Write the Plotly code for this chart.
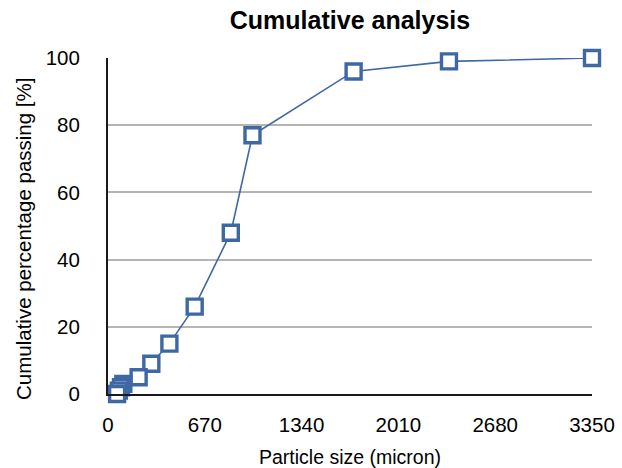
import plotly.graph_objects as go

# Sieve sizes (micron) and cumulative percentage passing,
# listed coarse to fine so the finest sieves sit on top of the cluster
sizes = [3350, 2360, 1700, 1000, 850, 600, 425, 300, 212, 106, 90, 75, 63]
passing = [100, 99, 96, 77, 48, 26, 15, 9, 5, 3, 2, 1, 0]

x_ticks = [0, 670, 1340, 2010, 2680, 3350]
y_ticks = [0, 20, 40, 60, 80, 100]

blue = "#3e68a4"
font_family = "Liberation Sans, Arial, Helvetica, sans-serif"

W, H = 622, 468
L, R, T, B = 108, 30, 58, 74

fig = go.Figure()
fig.add_trace(go.Scatter(
    x=sizes,
    y=passing,
    mode="lines+markers",
    line=dict(color=blue, width=1.6),
    marker=dict(symbol="square", size=15, color="white", line=dict(width=3.4, color=blue)),
    cliponaxis=False,
    showlegend=False,
))

# Vertical axis title placed as a rotated annotation
fig.add_annotation(
    text="Cumulative percentage passing [%]",
    xref="paper", yref="paper",
    x=(23 - L) / (W - L - R), y=(H - B - 239) / (H - T - B),
    xanchor="center", yanchor="middle",
    textangle=-90, showarrow=False,
    font=dict(size=20.5, color="black"),
)

fig.update_layout(
    width=W,
    height=H,
    margin=dict(l=L, r=R, t=T, b=B, autoexpand=False),
    paper_bgcolor="white",
    plot_bgcolor="white",
    font=dict(family=font_family, color="black"),
    title=dict(
        text="<b>Cumulative analysis</b>",
        xref="paper", x=0.5, xanchor="center",
        yref="container", y=1 - 20 / H, yanchor="middle",
        font=dict(size=25, color="black"),
    ),
    xaxis=dict(
        range=[0, 3350],
        tickvals=x_ticks,
        ticktext=[str(v) for v in x_ticks],
        tickfont=dict(size=20.5),
        ticks="outside", ticklen=11, tickcolor="rgba(0,0,0,0)",
        showgrid=False,
        zeroline=False,
        automargin=False,
        showline=True, linecolor="#1a1a1a", linewidth=2,
        title=dict(text="Particle size (micron)", font=dict(size=19.5), standoff=18),
    ),
    yaxis=dict(
        range=[0, 100],
        tickvals=y_ticks,
        tickfont=dict(size=20.5),
        ticks="outside", ticklen=22, tickcolor="rgba(0,0,0,0)",
        showgrid=True, gridcolor="#b4b4b4", gridwidth=1.5,
        zeroline=False,
        automargin=False,
        showline=True, linecolor="#1a1a1a", linewidth=2,
    ),
)

fig.write_html("out.html")
